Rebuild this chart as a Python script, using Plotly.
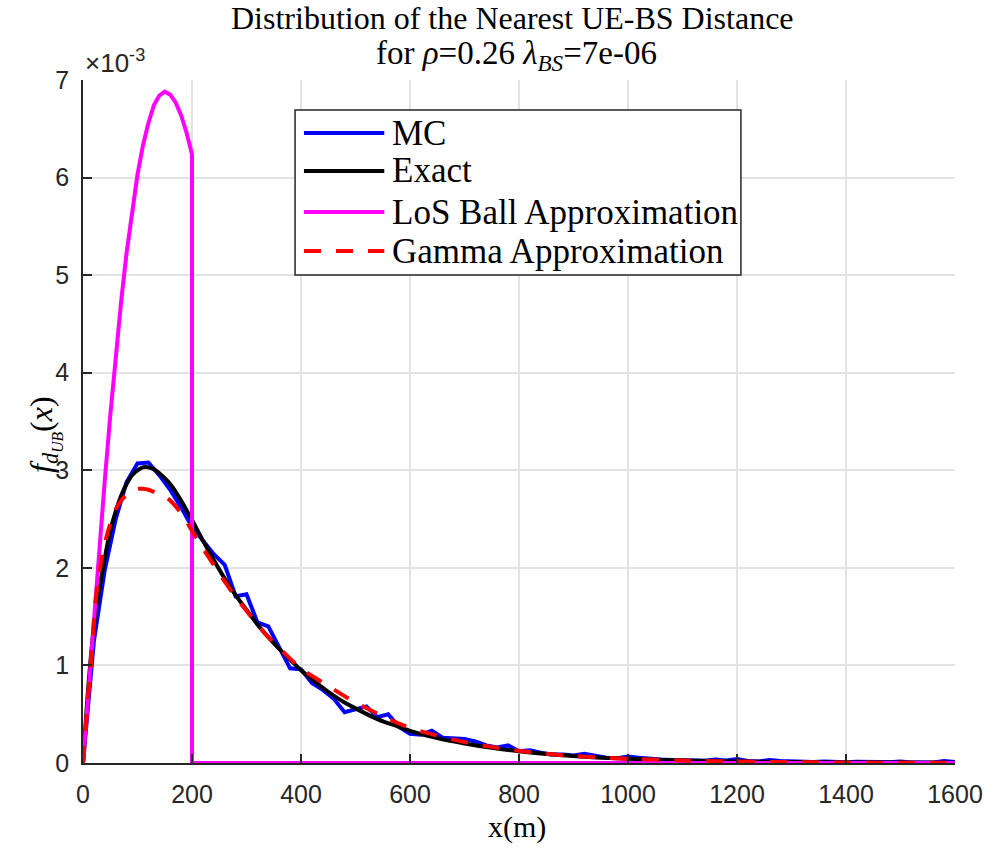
import plotly.graph_objects as go

# ---------------- data (values in units of 1e-3) ----------------
mc_x = list(range(0, 1601, 20))
mc_y = [0.0, 1.25, 1.98, 2.50, 2.88, 3.07, 3.08, 2.95, 2.80, 2.62,
        2.42, 2.28, 2.14, 2.03, 1.71, 1.73, 1.44, 1.40, 1.19, 0.97,
        0.96, 0.82, 0.75, 0.66, 0.52, 0.55, 0.58, 0.47, 0.50, 0.37,
        0.30, 0.29, 0.33, 0.26, 0.25, 0.245, 0.22, 0.18, 0.16, 0.18,
        0.12, 0.13, 0.105, 0.087, 0.087, 0.077, 0.094, 0.077, 0.053, 0.05,
        0.067, 0.053, 0.04, 0.035, 0.03, 0.025, 0.028, 0.022, 0.035, 0.025,
        0.04, 0.02, 0.015, 0.03, 0.02, 0.015, 0.012, 0.01, 0.015, 0.01,
        0.008, 0.012, 0.006, 0.01, 0.008, 0.015, 0.005, 0.008, 0.006, 0.02,
        0.01]

exact_x = [0, 10, 20, 30, 40, 50, 60, 70, 80, 90, 100, 110, 120, 130, 140, 150,
           160, 170, 180, 190, 200, 220, 240, 260, 280, 300, 320, 340, 360, 380,
           400, 420, 440, 460, 480, 500, 540, 580, 600, 650, 700, 750, 800, 850,
           900, 950, 1000, 1100, 1200, 1300, 1400, 1500, 1600]
exact_y = [0.0, 0.80, 1.40, 1.78, 2.10, 2.38, 2.58, 2.74, 2.86, 2.95, 3.00, 3.03,
           3.03, 3.01, 2.97, 2.92, 2.86, 2.78, 2.69, 2.59, 2.49, 2.28, 2.08, 1.89,
           1.72, 1.57, 1.42, 1.29, 1.17, 1.06, 0.95, 0.86, 0.77, 0.69, 0.62, 0.56,
           0.45, 0.37, 0.33, 0.255, 0.20, 0.155, 0.12, 0.092, 0.071, 0.055, 0.043,
           0.026, 0.016, 0.010, 0.006, 0.004, 0.0025]

los_x = [0, 10, 20, 30, 40, 50, 60, 70, 80, 90, 100, 110, 120, 130, 140, 150,
         160, 170, 180, 190, 200, 200, 1600]
los_y = [0.0, 0.75, 1.49, 2.21, 2.90, 3.56, 4.17, 4.73, 5.23, 5.66, 6.03, 6.33,
         6.56, 6.74, 6.84, 6.88, 6.85, 6.77, 6.64, 6.46, 6.24, 0.0, 0.0]

gamma_x = [0, 5, 10, 15, 20, 25, 30, 40, 50, 60, 70, 80, 90, 100, 110, 120, 130,
           140, 150, 160, 180, 200, 220, 240, 260, 280, 300, 320, 340, 360, 380,
           400, 450, 500, 550, 600, 650, 700, 750, 800, 850, 900, 950, 1000, 1100,
           1200, 1300, 1400, 1500, 1600]
gamma_y = [0.0, 0.35, 0.72, 1.02, 1.45, 1.76, 1.95, 2.25, 2.45, 2.60, 2.69, 2.75,
           2.79, 2.81, 2.81, 2.80, 2.78, 2.76, 2.73, 2.69, 2.56, 2.38, 2.20, 2.03,
           1.86, 1.70, 1.56, 1.42, 1.29, 1.18, 1.07, 0.97, 0.79, 0.62, 0.48, 0.36,
           0.28, 0.215, 0.165, 0.125, 0.095, 0.072, 0.056, 0.044, 0.026, 0.015,
           0.009, 0.005, 0.003, 0.002]

series_names = ["MC", "Exact", "LoS Ball Approximation", "Gamma Approximation"]
series_colors = ["#0000FF", "#000000", "#FF00FF", "#FF0000"]
series_dash = ["solid", "solid", "solid", "17px,15px"]

x_ticks = [0, 200, 400, 600, 800, 1000, 1200, 1400, 1600]
y_ticks = [0, 1, 2, 3, 4, 5, 6, 7]

title_line1 = "Distribution of the Nearest UE-BS Distance"
title_line2 = "for <i>ρ</i>=0.26 <i>λ</i><sub><i>BS</i></sub>=7e-06"

SERIF = "Liberation Serif"
SANS = "Liberation Sans"
AX = "#262626"

fig = go.Figure()
data = [(mc_x, mc_y, "linear"), (exact_x, exact_y, "spline"),
        (los_x, los_y, "linear"), (gamma_x, gamma_y, "spline")]
for (xs, ys, shp), name, col, dash in zip(data, series_names, series_colors, series_dash):
    fig.add_trace(go.Scatter(x=xs, y=ys, mode="lines", name=name, showlegend=False,
                             line=dict(color=col, width=4, dash=dash, shape=shp)))

axis_common = dict(showline=True, linecolor=AX, linewidth=1.5, ticks="inside",
                   ticklen=9, tickwidth=1.5, tickcolor=AX, showgrid=True,
                   gridcolor="#e3e3e3", gridwidth=1.5, zeroline=False,
                   tickfont=dict(family=SANS, size=25, color=AX), mirror=False)

fig.update_layout(
    width=995, height=848,
    margin=dict(l=83, r=32, t=80, b=85),
    paper_bgcolor="white", plot_bgcolor="white",
    xaxis=dict(range=[0, 1600], tickvals=x_ticks, ticklabelstandoff=8, **axis_common),
    yaxis=dict(range=[0, 7], tickvals=y_ticks, ticklabelstandoff=7, **axis_common),
)

# title (two lines)
fig.add_annotation(text=title_line1, x=0.492, y=1.0908, xref="paper", yref="paper",
                   xanchor="center", yanchor="middle", showarrow=False,
                   font=dict(family=SERIF, size=32, color="#000000"))
fig.add_annotation(text=title_line2, x=0.497, y=1.0366, xref="paper", yref="paper",
                   xanchor="center", yanchor="middle", showarrow=False,
                   font=dict(family=SERIF, size=33, color="#000000"))

# axis labels and exponent
fig.add_annotation(text="x(m)", x=0.498, y=-0.094, xref="paper", yref="paper",
                   xanchor="center", yanchor="middle", showarrow=False,
                   font=dict(family=SERIF, size=30, color="#000000"))
fig.add_annotation(text="<i>f</i><sub><i>d<sub>UB</sub></i></sub>(<i>x</i>)", x=-0.045, y=0.48,
                   xref="paper", yref="paper", xanchor="center", yanchor="middle",
                   textangle=-90, showarrow=False,
                   font=dict(family=SERIF, size=32, color="#000000"))
fig.add_annotation(text="×10<sup>-3</sup>", x=0.0, y=1.0, xref="paper", yref="paper",
                   xanchor="left", yanchor="bottom", showarrow=False, yshift=0,
                   font=dict(family=SANS, size=26, color=AX))

# legend box (drawn)
lx0, lx1, ly0, ly1 = 0.2432, 0.7545, 0.7145, 0.956
fig.add_shape(type="rect", xref="paper", yref="paper", x0=lx0, x1=lx1, y0=ly0, y1=ly1,
              line=dict(color=AX, width=1.5), fillcolor="white", layer="above")
rows = [0.9224, 0.8668, 0.8067, 0.7496]
for yy, name, col, dash in zip(rows, series_names, series_colors, series_dash):
    fig.add_shape(type="line", xref="paper", yref="paper", x0=0.2534, x1=0.3455, y0=yy, y1=yy,
                  line=dict(color=col, width=4, dash=dash), layer="above")
    fig.add_annotation(text=name, x=0.3523, y=yy, xref="paper", yref="paper",
                       xanchor="left", yanchor="middle", showarrow=False,
                       font=dict(family=SERIF, size=35, color="#000000"))

fig.write_html("out.html")
